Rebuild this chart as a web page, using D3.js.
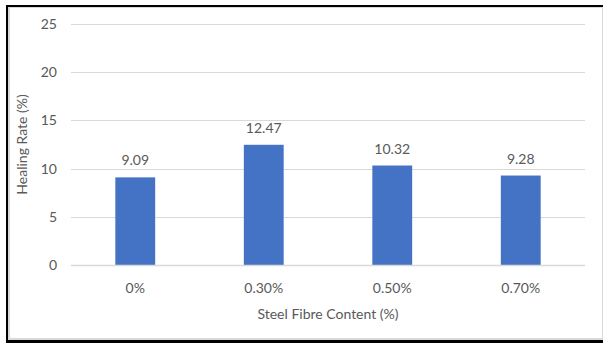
<!DOCTYPE html>
<html>
<head>
<meta charset="utf-8">
<script src="https://cdn.jsdelivr.net/npm/d3@7"></script>
<style>
  html, body { margin: 0; padding: 0; background: #fff; }
  svg { display: block; }
  text { font-family: Lato, "Open Sans", sans-serif; fill: #595959; }
</style>
</head>
<body>
<svg id="chart" width="603" height="343"></svg>
<script>
// Healing rate by steel fibre content
const categories = ["0%", "0.30%", "0.50%", "0.70%"];
const healingRate = [9.09, 12.47, 10.32, 9.28];
const yTicks = [0, 5, 10, 15, 20, 25];
const xTitle = "Steel Fibre Content (%)";
const yTitle = "Healing Rate (%)";

const svg = d3.select("#chart");
const W = 603, H = 343;
const plot = { left: 71, right: 585, top: 24, bottom: 265 };

// frame: light chart-area outline inside a heavier black border
svg.append("rect").attr("x", 9).attr("y", 7).attr("width", W - 9).attr("height", 332)
  .attr("fill", "#fff").attr("stroke", "#d9d9d9").attr("stroke-width", 2);
svg.append("path")
  .attr("d", `M7,${H} L7,6 L${W},6`)
  .attr("fill", "none").attr("stroke", "#000").attr("stroke-width", 2);
svg.append("line").attr("x1", 6).attr("x2", W).attr("y1", 341.5).attr("y2", 341.5)
  .attr("stroke", "#000").attr("stroke-width", 3);

const x = d3.scaleBand().domain(categories).range([plot.left, plot.right])
  .paddingInner(0.69).paddingOuter(0.345);
const y = d3.scaleLinear().domain([0, 25]).range([plot.bottom, plot.top]);

// horizontal gridlines
svg.append("g").selectAll("line").data(yTicks.filter(d => d > 0)).join("line")
  .attr("x1", plot.left).attr("x2", plot.right)
  .attr("y1", d => Math.round(y(d)) + 0.5).attr("y2", d => Math.round(y(d)) + 0.5)
  .attr("stroke", "#d9d9d9").attr("stroke-width", 1);

// y tick labels
svg.append("g").selectAll("text").data(yTicks).join("text")
  .attr("x", 57).attr("y", d => y(d)).attr("dy", "0.35em")
  .attr("text-anchor", "end").attr("font-size", 14)
  .text(d => d);

// bars
svg.append("g").selectAll("rect").data(healingRate).join("rect")
  .attr("x", (d, i) => x(categories[i]))
  .attr("width", x.bandwidth())
  .attr("y", d => y(d))
  .attr("height", d => y(0) - y(d))
  .attr("fill", "#4472c4");

// value labels
svg.append("g").selectAll("text").data(healingRate).join("text")
  .attr("x", (d, i) => x(categories[i]) + x.bandwidth() / 2)
  .attr("y", d => y(d) - 12)
  .attr("text-anchor", "middle").attr("font-size", 14)
  .text(d => d.toFixed(2));

// baseline
svg.append("line").attr("x1", plot.left).attr("x2", plot.right)
  .attr("y1", y(0) + 0.5).attr("y2", y(0) + 0.5)
  .attr("stroke", "#d9d9d9").attr("stroke-width", 1.5);

// x tick labels
svg.append("g").selectAll("text").data(categories).join("text")
  .attr("x", d => x(d) + x.bandwidth() / 2).attr("y", 293)
  .attr("text-anchor", "middle").attr("font-size", 14)
  .text(d => d);

// axis titles
svg.append("text").attr("x", (plot.left + plot.right) / 2).attr("y", 319)
  .attr("text-anchor", "middle").attr("font-size", 14).text(xTitle);
svg.append("text")
  .attr("transform", `translate(27,${(plot.top + plot.bottom) / 2}) rotate(-90)`)
  .attr("text-anchor", "middle").attr("font-size", 14).text(yTitle);
</script>
</body>
</html>
